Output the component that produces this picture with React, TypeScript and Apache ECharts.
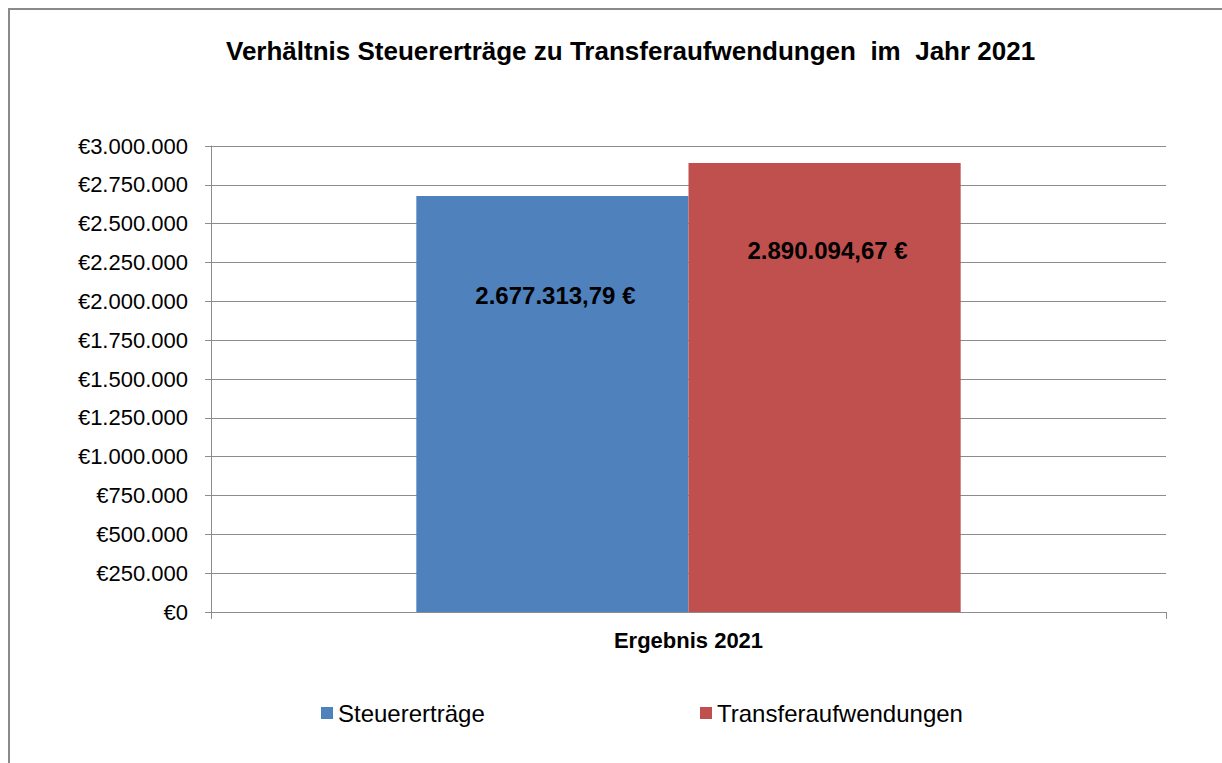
import React, { useEffect, useRef } from "react";
import * as echarts from "echarts";

const categories = ["Ergebnis 2021"];
const seriesNames = ["Steuererträge", "Transferaufwendungen"];
const steuerertraege = [2677313.79];
const transferaufwendungen = [2890094.67];
const yTicks = { min: 0, max: 3000000, interval: 250000 };
const colors = ["#4F81BD", "#C0504D"];
const labelDistances = [87, 75];

const FONT = "'Liberation Sans', Arial, sans-serif";

function fmtAxis(v: number): string {
  return "€" + Math.round(v).toString().replace(/\B(?=(\d{3})+(?!\d))/g, ".");
}
function fmtLabel(v: number): string {
  const [i, d] = v.toFixed(2).split(".");
  return i.replace(/\B(?=(\d{3})+(?!\d))/g, ".") + "," + d + " €";
}

export default function App() {
  const ref = useRef<HTMLDivElement>(null);
  useEffect(() => {
    if (!ref.current) return;
    const chart = echarts.init(ref.current, null, { renderer: "svg" });
    const values = [steuerertraege, transferaufwendungen];
    chart.setOption({
      animation: false,
      backgroundColor: "#ffffff",
      textStyle: { fontFamily: FONT },
      title: {
        text: "Verhältnis Steuererträge zu Transferaufwendungen  im  Jahr 2021",
        left: 221,
        top: 33,
        textStyle: { fontFamily: FONT, fontSize: 26, fontWeight: "bold", color: "#000" },
      },
      graphic: [
        {
          type: "line",
          shape: { x1: 9, y1: 9, x2: 9, y2: 800 },
          style: { stroke: "#8a8a8a", lineWidth: 2 },
          silent: true,
          z: 100,
        },
        {
          type: "line",
          shape: { x1: 8, y1: 9, x2: 1300, y2: 9 },
          style: { stroke: "#8a8a8a", lineWidth: 2 },
          silent: true,
          z: 100,
        },
      ],
      legend: [
        {
          data: [seriesNames[0]],
          left: 321,
          top: 701,
          padding: 0,
          itemWidth: 12,
          itemHeight: 12,
          icon: "rect",
          textStyle: { fontFamily: FONT, fontSize: 24, color: "#000" },
        },
        {
          data: [seriesNames[1]],
          left: 700,
          top: 701,
          padding: 0,
          itemWidth: 12,
          itemHeight: 12,
          icon: "rect",
          textStyle: { fontFamily: FONT, fontSize: 24, color: "#000" },
        },
      ],
      grid: { left: 211, top: 146, right: 56, bottom: 151, containLabel: false },
      xAxis: {
        type: "category",
        data: categories,
        axisLine: { lineStyle: { color: "#8c8c8c", width: 1 } },
        axisTick: { show: true, length: 7, lineStyle: { color: "#8c8c8c" }, interval: 0 },
        axisLabel: {
          fontFamily: FONT,
          fontSize: 22,
          fontWeight: "bold",
          color: "#000",
          margin: 17,
        },
      },
      yAxis: {
        type: "value",
        min: yTicks.min,
        max: yTicks.max,
        interval: yTicks.interval,
        axisLine: { show: true, lineStyle: { color: "#8c8c8c", width: 1 } },
        axisTick: { show: true, length: 6, lineStyle: { color: "#8c8c8c" } },
        splitLine: { show: true, lineStyle: { color: "#8c8c8c", width: 1 } },
        axisLabel: {
          fontFamily: FONT,
          fontSize: 22,
          color: "#000",
          margin: 23,
          formatter: (v: number) => fmtAxis(v),
        },
      },
      series: seriesNames.map((name, si) => ({
        name,
        type: "bar",
        barGap: "0%",
        barCategoryGap: "43%",
        itemStyle: { color: colors[si] },
        data: values[si].map((v) => ({
          value: v,
          label: {
            show: true,
            position: "insideTop",
            distance: labelDistances[si],
            offset: [3, 0],
            formatter: () => fmtLabel(v),
            fontFamily: FONT,
            fontSize: 24,
            fontWeight: "bold",
            color: "#000",
          },
        })),
      })),
    });
    return () => chart.dispose();
  }, []);
  return (
    <div
      ref={ref}
      style={{ position: "absolute", left: 0, top: 0, width: 1222, height: 763 }}
    />
  );
}
